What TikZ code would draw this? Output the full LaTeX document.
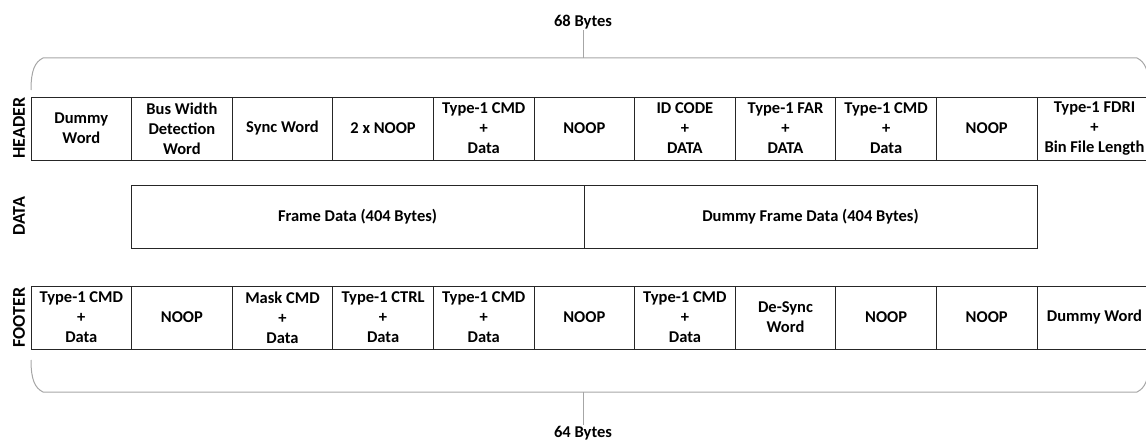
\documentclass[tikz,border=0pt]{standalone}
\usepackage{fontspec}
\setmainfont{Carlito}
\tikzset{
  cell/.style={draw=black!85,line width=1pt,minimum width=100.6pt,minimum height=63pt,
    inner sep=0pt,outer sep=0pt,align=center},
  brace/.style={draw=black!35,line width=1pt},
  side/.style={rotate=90,inner sep=0pt,font=\fontsize{18}{20}\selectfont\bfseries}
}
\begin{document}
\begin{tikzpicture}[x=1pt,y=-1pt,font=\fontsize{16.5}{20}\selectfont\bfseries]
  \useasboundingbox (0,0) rectangle (1146,444);
  % header
  \node[side] (header) at (19,128) {HEADER};
  \node[cell] (h1) at (81.3,128.5){Dummy\\Word};
  \node[cell] (h2) at (181.9,128.5){Bus Width\\Detection\\Word};
  \node[cell] (h3) at (282.5,128.5){Sync Word};
  \node[cell] (h4) at (383.1,128.5){2 x NOOP};
  \node[cell] (h5) at (483.7,128.5){Type-1 CMD\\+\\Data};
  \node[cell] (h6) at (584.3,128.5){NOOP};
  \node[cell] (h7) at (684.9,128.5){ID CODE\\+\\DATA};
  \node[cell] (h8) at (785.5,128.5){Type-1 FAR\\+\\DATA};
  \node[cell] (h9) at (886.1,128.5){Type-1 CMD\\+\\Data};
  \node[cell] (h10) at (986.7,128.5){NOOP};
  \node[cell,minimum width=115pt] (h11) at (1094.5,128.5){Type-1 FDRI\\+\\Bin File Length};
  % data
  \node[side] (data) at (19,216.5) {DATA};
  \node[cell,minimum width=453pt] (d1) at (357.5,216.5){Frame Data (404 Bytes)};
  \node[cell,minimum width=453pt] (d2) at (810.5,216.5){Dummy Frame Data (404 Bytes)};
  % footer
  \node[side] (footer) at (19,317.5) {FOOTER};
  \node[cell] (f1) at (81.3,317.5){Type-1 CMD\\+\\Data};
  \node[cell] (f2) at (181.9,317.5){NOOP};
  \node[cell] (f3) at (282.5,317.5){Mask CMD\\+\\Data};
  \node[cell] (f4) at (383.1,317.5){Type-1 CTRL\\+\\Data};
  \node[cell] (f5) at (483.7,317.5){Type-1 CMD\\+\\Data};
  \node[cell] (f6) at (584.3,317.5){NOOP};
  \node[cell] (f7) at (684.9,317.5){Type-1 CMD\\+\\Data};
  \node[cell] (f8) at (785.5,317.5){De-Sync\\Word};
  \node[cell] (f9) at (886.1,317.5){NOOP};
  \node[cell] (f10) at (986.7,317.5){NOOP};
  \node[cell,minimum width=115pt] (f11) at (1094.5,317.5){Dummy Word};
  % braces
  \draw[brace] (31,90) .. controls (31,70) and (35,62) .. (43,58) -- (1137,58)
    .. controls (1145,62) and (1149,70) .. (1149,90);
  \draw[brace] (31,360) .. controls (31,380) and (35,388) .. (43,392) -- (1137,392)
    .. controls (1145,388) and (1149,380) .. (1149,360);
  \coordinate (topmid) at (583,58);
  \coordinate (botmid) at (583,392);
  \node[inner sep=1pt] (top68) at (583,22) {68 Bytes};
  \node[inner sep=1pt,anchor=north] (bot64) at (583,425) {64 Bytes};
  \draw[brace] (top68.south) -- (topmid);
  \draw[brace] (botmid) -- (bot64.north);
\end{tikzpicture}
\end{document}
